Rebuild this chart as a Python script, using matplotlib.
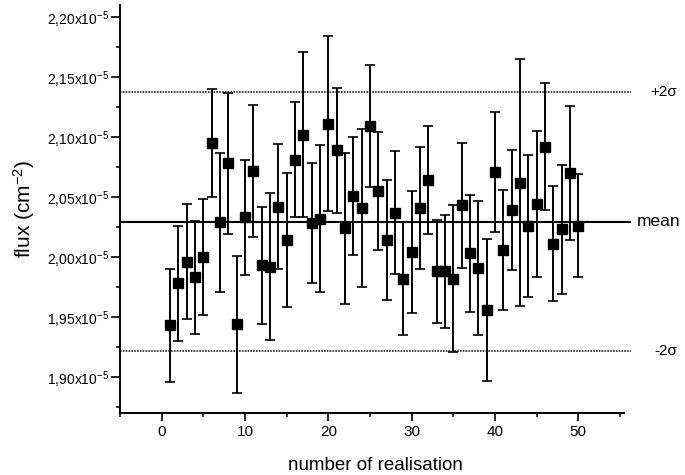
"""Flux for each realisation with error bars, mean and +-2 sigma lines"""

import matplotlib
matplotlib.use('Agg')
import matplotlib.pyplot as plt
from matplotlib.ticker import MultipleLocator, FuncFormatter

plt.rcParams['font.family'] = ['Liberation Sans', 'DejaVu Sans']
plt.rcParams['mathtext.default'] = 'regular'

# Realisation number
realisation = list(range(1, 51))

# Flux values (in units of 1e-5 cm^-2)
flux = [1.943, 1.978, 1.996, 1.983, 2.000, 2.095, 2.029, 2.078, 1.944, 2.033,
        2.072, 1.993, 1.992, 2.042, 2.014, 2.081, 2.102, 2.028, 2.032, 2.111,
        2.089, 2.024, 2.051, 2.041, 2.109, 2.055, 2.014, 2.037, 1.982, 2.004,
        2.041, 2.064, 1.988, 1.988, 1.982, 2.043, 2.003, 1.991, 1.956, 2.071,
        2.006, 2.039, 2.062, 2.026, 2.044, 2.092, 2.011, 2.023, 2.070, 2.026]

# Half length of the error bars (same units)
flux_err = [0.047, 0.048, 0.048, 0.047, 0.048, 0.045, 0.058, 0.059, 0.057, 0.048,
            0.055, 0.049, 0.061, 0.052, 0.056, 0.048, 0.069, 0.050, 0.061, 0.073,
            0.052, 0.063, 0.049, 0.066, 0.051, 0.049, 0.050, 0.051, 0.047, 0.051,
            0.051, 0.045, 0.043, 0.047, 0.061, 0.052, 0.049, 0.056, 0.059, 0.050,
            0.050, 0.050, 0.103, 0.059, 0.061, 0.053, 0.048, 0.054, 0.056, 0.043]

# Reference lines
mean_flux = 2.0295
plus_2sigma = 2.1375
minus_2sigma = 1.9213

scale = 1e-5
y = [v * scale for v in flux]
yerr = [e * scale for e in flux_err]

fig = plt.figure(figsize=(6.85, 4.75), dpi=100)
ax = fig.add_axes([0.1752, 0.1305, 0.7455, 0.859])

# Horizontal lines: mean and +-2 sigma
ax.axhline(mean_flux * scale, color='black', lw=1.5, zorder=1)
ax.axhline(plus_2sigma * scale, color='#222222', lw=1.2, ls=(0, (1, 0.7)), zorder=1)
ax.axhline(minus_2sigma * scale, color='#222222', lw=1.2, ls=(0, (1, 0.7)), zorder=1)

ax.errorbar(realisation, y, yerr=yerr, fmt='s', color='black', ms=7,
            ecolor='black', elinewidth=1.4, capsize=3.6, capthick=1.2, zorder=3)

ax.set_xlim(-5, 56.3)
ax.set_ylim(1.870 * scale, 2.210 * scale)

for side in ['top', 'right']:
    ax.spines[side].set_visible(False)
for side in ['left', 'bottom']:
    ax.spines[side].set_linewidth(1.4)
ax.spines['bottom'].set_bounds(-5, 55.5)

ax.xaxis.set_major_locator(MultipleLocator(10))
ax.xaxis.set_minor_locator(MultipleLocator(5))
ax.yaxis.set_major_locator(MultipleLocator(0.05 * scale))
ax.yaxis.set_minor_locator(MultipleLocator(0.025 * scale))


def flux_label(v, pos):
    return ('%.2f' % (v / scale)).replace('.', ',') + 'x10$^{-5}$'


ax.yaxis.set_major_formatter(FuncFormatter(flux_label))

ax.tick_params(axis='both', which='major', direction='out', width=1.2)
ax.tick_params(axis='both', which='minor', direction='out', length=3, width=1.1)
ax.tick_params(axis='x', which='major', length=5.5, labelsize=11, pad=3)
ax.tick_params(axis='y', which='major', length=6.5, labelsize=10, pad=1.5)

ax.set_xlabel('number of realisation', fontsize=13.5, labelpad=13)
ax.set_ylabel('flux (cm$^{-2}$)', fontsize=15, labelpad=7)

# Labels to the right of the lines
ax.text(58.6, plus_2sigma * scale, '+2σ', fontsize=11, ha='left', va='center', clip_on=False)
ax.text(57.05, mean_flux * scale, 'mean', fontsize=12.5, ha='left', va='center', clip_on=False)
ax.text(59.1, minus_2sigma * scale, '-2σ', fontsize=11, ha='left', va='center', clip_on=False)

plt.savefig('out.png', dpi=100)
